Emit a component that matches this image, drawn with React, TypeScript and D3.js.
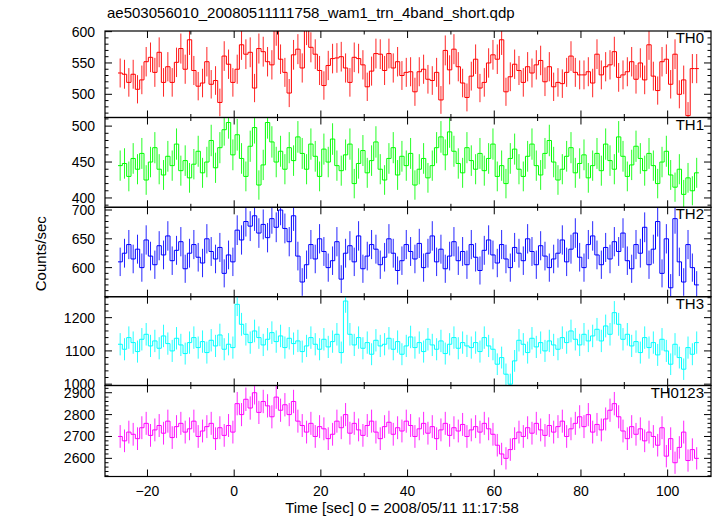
import React from "react";
import * as d3 from "d3";

const TITLE = "ae503056010_20080511111758_wam1_trn_4band_short.qdp";
const X_LABEL = "Time [sec] 0 = 2008/05/11 11:17:58";
const Y_LABEL = "Counts/sec";
const BIN_START = -26.8;
const BIN_WIDTH = 1;
const X_MAJOR = [-20, 0, 20, 40, 60, 80, 100];
const X_MINOR = [-10, 10, 30, 50, 70, 90, 110];

const TH0 = [
  534, 532, 519, 532, 508, 523, 552, 559, 535, 567, 519, 544, 519, 551, 573, 540, 587, 538, 513, 518, 552, 516, 522, 487, 561, 548, 519, 540, 579, 564, 567, 510, 573,
  568, 552, 547, 602, 556, 535, 502, 563, 572, 542, 603, 575, 564, 538, 514, 546, 557, 558, 560, 542, 519, 559, 557, 547, 512, 537, 565, 564, 538, 565, 542, 552, 530, 535,
  536, 504, 536, 540, 524, 522, 535, 491, 570, 539, 572, 544, 518, 495, 529, 556, 510, 519, 550, 563, 556, 587, 504, 528, 548, 538, 519, 544, 534, 547, 554, 520, 544, 512,
  519, 517, 535, 561, 535, 531, 531, 536, 518, 564, 531, 544, 547, 568, 527, 531, 536, 552, 524, 550, 523, 579, 529, 506, 552, 556, 516, 564, 500, 523, 466, 541, 541,
];

const TH1 = [
  445, 448, 430, 455, 440, 462, 425, 450, 470, 440, 432, 458, 445, 475, 438, 452, 428, 447, 465, 435, 450, 480, 442,
  470, 495, 505, 460, 488,
  455, 430, 472, 498, 418, 446, 505, 478, 450, 465, 440, 470, 452, 485,
  462, 440, 475, 458, 430, 468, 450, 482, 445, 438, 460, 475, 420, 448, 466, 435, 452, 478, 440, 425, 455, 470, 432, 458, 445, 462,
  418, 440, 455, 428, 445, 470, 485, 460, 492, 465, 448, 435, 470, 452, 440, 462, 438, 455, 475, 430,
  445, 420, 455, 468, 440, 430, 458, 475, 445, 432, 462, 480, 450, 425, 440, 458, 470, 435, 448, 460,
  428, 445, 462, 438, 475, 452, 440, 485, 458, 430, 446, 472, 455, 438, 462, 445, 420, 450, 465, 432, 415, 440, 405, 428, 410, 435,
];

const TH2 = [
  610, 625, 640, 615, 632, 600, 648, 620, 605, 638, 622, 655, 612, 630, 645, 598, 625, 640, 618, 608, 650, 628, 615, 635, 590, 622, 610,
  665, 648, 680, 672, 690, 660, 675, 652, 685, 670, 700, 668, 645, 690,
  620, 575, 605, 640, 615, 650, 628, 600, 612, 645, 580, 625, 638, 610, 655, 598, 620, 640, 632, 605, 618, 650, 625, 595, 612, 640, 628,
  615, 642, 600, 625, 655, 610, 632, 598, 620, 645, 612, 628, 605, 640, 618, 595, 630, 648, 622, 608, 640, 615, 600, 635, 625, 612, 650, 628, 605, 638, 620, 600, 615,
  625, 648, 610, 632, 660, 618, 600, 640, 655, 622, 605, 635, 615, 645, 628, 660, 612, 598, 640, 625, 670, 605, 632, 680, 590, 650, 565, 685, 610, 575, 640, 600, 570,
];

const TH3 = [
  1120, 1105, 1140, 1125, 1098, 1135, 1150, 1115, 1130, 1108, 1145, 1122, 1100, 1138, 1118, 1092, 1125, 1140, 1110, 1128, 1095, 1132, 1115, 1148, 1105, 1120, 1110,
  1240, 1180, 1150, 1125, 1160, 1140, 1118, 1135, 1155, 1128, 1145, 1110, 1138, 1122,
  1130, 1098, 1115, 1140, 1120, 1105, 1135, 1112, 1128, 1150, 1095, 1250, 1150, 1118, 1140, 1108, 1125, 1090, 1132, 1115,
  1120, 1138, 1105, 1128, 1090, 1115, 1142, 1110, 1125, 1098, 1135, 1118, 1105, 1130, 1092, 1120, 1140, 1108, 1125, 1115, 1110, 1125, 1098, 1140, 1115, 1105, 1060, 1080, 1030, 1000, 1070, 1132, 1120, 1095, 1138, 1112, 1125, 1100, 1130, 1118,
  1105, 1140, 1125, 1160, 1135, 1118, 1150, 1130, 1145, 1165, 1130, 1175, 1150, 1215, 1180, 1135, 1150, 1115, 1128, 1095, 1140, 1110, 1125, 1088, 1135, 1100, 1060, 1120, 1080, 1045, 1110, 1090, 1125,
];

const TH0123 = [
  2700, 2680, 2720, 2710, 2690, 2740, 2760, 2705, 2730, 2750, 2715, 2770, 2695, 2745, 2760, 2720, 2735, 2770, 2700, 2725, 2745, 2760, 2690, 2740, 2705, 2750, 2720,
  2850, 2800, 2870, 2830, 2900, 2810, 2860, 2840, 2790, 2880, 2820, 2845, 2800, 2860, 2770, 2750,
  2720, 2760, 2700, 2745, 2735, 2690, 2710, 2770, 2740, 2800, 2715, 2760, 2730, 2705, 2750, 2770, 2720, 2690, 2745, 2765, 2710, 2740, 2725, 2770, 2750, 2700, 2735, 2760, 2715, 2745, 2690, 2730, 2760, 2705, 2740, 2725, 2755, 2700, 2730, 2745, 2720, 2760, 2735, 2710,
  2660, 2620, 2600, 2640, 2690, 2720,
  2700, 2740, 2715, 2760, 2730, 2705, 2750, 2720, 2745, 2770, 2700, 2735, 2760, 2790, 2745, 2800, 2720, 2755, 2730, 2780, 2820, 2850, 2790, 2725, 2690, 2745, 2710, 2735, 2680, 2720, 2700, 2660, 2740, 2610, 2690, 2580, 2650, 2720, 2590, 2640, 2600,
];

const SERIES = [TH0, TH1, TH2, TH3, TH0123];
const PANEL_LABELS = ["TH0", "TH1", "TH2", "TH3", "TH0123"];
const Y_MAJOR = [
  [500, 550, 600],
  [400, 450, 500],
  [600, 650, 700],
  [1000, 1100, 1200],
  [2600, 2700, 2800, 2900],
];

// layout / style
const PANELS = [
  { top: 31, bottom: 117.5, domain: [463, 601], minor: 10, color: "#ff0000" },
  { top: 117.5, bottom: 207.3, domain: [387, 512], minor: 10, color: "#00ff00" },
  { top: 207.3, bottom: 296.7, domain: [549.5, 704.7], minor: 10, color: "#0000ff" },
  { top: 296.7, bottom: 385.5, domain: [996, 1263], minor: 20, color: "#00ffff" },
  { top: 385.5, bottom: 476.5, domain: [2517, 2933], minor: 20, color: "#ff00ff" },
];
const LEFT = 105;
const RIGHT = 711;
const FONT = "'Liberation Sans', Arial, Helvetica, sans-serif";

const x = d3.scaleLinear().domain([-29.8, 110]).range([LEFT, RIGHT]);
const fmt = d3.format("d");

function Panel({ idx }: { idx: number }) {
  const p = PANELS[idx];
  const data = SERIES[idx];
  const y = d3.scaleLinear().domain(p.domain).range([p.bottom, p.top]);
  const pts: [number, number][] = data.map((v, k) => [BIN_START + k * BIN_WIDTH, v]);
  pts.push([BIN_START + data.length * BIN_WIDTH, data[data.length - 1]]);
  const line = d3
    .line<[number, number]>()
    .x((d) => x(d[0]))
    .y((d) => y(d[1]))
    .curve(d3.curveStepAfter);
  const clipId = `clip${idx}`;
  const [d0, d1] = p.domain;
  const minorTicks = d3.range(Math.ceil(d0 / p.minor) * p.minor, d1 + 0.001, p.minor).filter(
    (v) => !Y_MAJOR[idx].includes(v)
  );
  const maj = 7;
  const mnr = 3.5;
  return (
    <g>
      <defs>
        <clipPath id={clipId}>
          <rect x={LEFT} y={p.top} width={RIGHT - LEFT} height={p.bottom - p.top} />
        </clipPath>
      </defs>
      <g clipPath={`url(#${clipId})`}>
        {data.map((v, k) => {
          const e = Math.sqrt(v);
          const cx = x(BIN_START + (k + 0.5) * BIN_WIDTH);
          return (
            <line key={k} x1={cx} x2={cx} y1={y(v - e)} y2={y(v + e)} stroke={p.color} strokeWidth={1} strokeOpacity={0.85} />
          );
        })}
        <path d={line(pts) || ""} fill="none" stroke={p.color} strokeWidth={1} />
      </g>
      {X_MAJOR.map((t) => (
        <g key={`xm${t}`}>
          <line x1={x(t)} x2={x(t)} y1={p.bottom} y2={p.bottom - maj} stroke="#000" />
          <line x1={x(t)} x2={x(t)} y1={p.top} y2={p.top + maj} stroke="#000" />
        </g>
      ))}
      {X_MINOR.filter((t) => x(t) < RIGHT).map((t) => (
        <g key={`xn${t}`}>
          <line x1={x(t)} x2={x(t)} y1={p.bottom} y2={p.bottom - mnr} stroke="#000" />
          <line x1={x(t)} x2={x(t)} y1={p.top} y2={p.top + mnr} stroke="#000" />
        </g>
      ))}
      {Y_MAJOR[idx].map((v) => (
        <g key={`ym${v}`}>
          <line x1={LEFT} x2={LEFT + maj} y1={y(v)} y2={y(v)} stroke="#000" />
          <line x1={RIGHT} x2={RIGHT - maj} y1={y(v)} y2={y(v)} stroke="#000" />
          <text x={95} y={y(v)} textAnchor="end" dominantBaseline="central" fontSize={14} fontFamily={FONT}>
            {fmt(v)}
          </text>
        </g>
      ))}
      {minorTicks.map((v) => (
        <g key={`yn${v}`}>
          <line x1={LEFT} x2={LEFT + mnr} y1={y(v)} y2={y(v)} stroke="#000" />
          <line x1={RIGHT} x2={RIGHT - mnr} y1={y(v)} y2={y(v)} stroke="#000" />
        </g>
      ))}
      <rect x={LEFT} y={p.top} width={RIGHT - LEFT} height={p.bottom - p.top} fill="none" stroke="#000" strokeWidth={1.2} />
      <text x={704} y={p.top + 12} textAnchor="end" fontSize={15} fontFamily={FONT}>
        {PANEL_LABELS[idx]}
      </text>
    </g>
  );
}

export default function App() {
  const last = PANELS[PANELS.length - 1];
  return (
    <svg
      width={717}
      height={516}
      style={{ position: "absolute", left: 0, top: 0, background: "#fff" }}
      fontFamily={FONT}
    >
      <rect x={0} y={0} width={717} height={516} fill="#fff" />
      <text x={107} y={18} fontSize={15} fontFamily={FONT}>
        {TITLE}
      </text>
      {PANELS.map((_, i) => (
        <Panel key={i} idx={i} />
      ))}
      {X_MAJOR.map((t) => (
        <text key={t} x={x(t)} y={496} textAnchor="middle" fontSize={14} fontFamily={FONT}>
          {d3.format("d")(t)}
        </text>
      ))}
      <text x={402} y={513} textAnchor="middle" fontSize={15} fontFamily={FONT}>
        {X_LABEL}
      </text>
      <text
        transform={`translate(46, ${(PANELS[0].top + last.bottom) / 2}) rotate(-90)`}
        textAnchor="middle"
        fontSize={15}
        fontFamily={FONT}
      >
        {Y_LABEL}
      </text>
    </svg>
  );
}
